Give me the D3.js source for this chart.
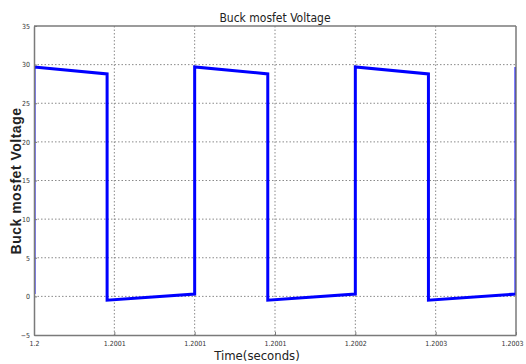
<!DOCTYPE html>
<html>
<head>
<meta charset="utf-8">
<script src="https://cdn.jsdelivr.net/npm/d3@7"></script>
<style>
  html, body { margin: 0; padding: 0; background: #fff; }
  svg { display: block; }
  .narrow { font-family: "Liberation Sans Narrow", "DejaVu Sans Condensed", "Liberation Sans", sans-serif; }
</style>
</head>
<body>
<svg id="chart" width="526" height="364"></svg>
<script>
// waveform corners
var times = [1.2, 1.2, 1.2000455, 1.2000455, 1.2001, 1.2001, 1.2001455, 1.2001455,
             1.2002, 1.2002, 1.2002455, 1.2002455, 1.2003, 1.2003];
var volts = [0.3, 29.7, 28.8, -0.5, 0.3, 29.7, 28.8, -0.5,
             0.3, 29.7, 28.8, -0.5, 0.3, 29.7];

var xTicks = [1.2, 1.20005, 1.2001, 1.20015, 1.2002, 1.20025, 1.2003];
var xTickLabels = ['1.2', '1.2001', '1.2001', '1.2001', '1.2002', '1.2003', '1.2003'];
var yTicks = [-5, 0, 5, 10, 15, 20, 25, 30, 35];

var svg = d3.select('#chart');
var m = { left: 34, right: 516, top: 26, bottom: 335 };

var x = d3.scaleLinear().domain([1.2, 1.2003]).range([m.left, m.right]);
var y = d3.scaleLinear().domain([-5, 35]).range([m.bottom, m.top]);

var grid = svg.append('g');
xTicks.slice(1, -1).forEach(function (t) {
    grid.append('line')
        .attr('x1', x(t)).attr('x2', x(t))
        .attr('y1', m.top).attr('y2', m.bottom)
        .attr('stroke', '#8a8a8a').attr('stroke-width', 1)
        .attr('stroke-dasharray', '1.5,2');
});
yTicks.slice(1, -1).forEach(function (v) {
    grid.append('line')
        .attr('x1', m.left).attr('x2', m.right)
        .attr('y1', y(v)).attr('y2', y(v))
        .attr('stroke', '#8a8a8a').attr('stroke-width', 1)
        .attr('stroke-dasharray', '1.5,2');
});

svg.append('clipPath').attr('id', 'clip')
    .append('rect')
    .attr('x', m.left).attr('y', m.top)
    .attr('width', m.right - m.left).attr('height', m.bottom - m.top);

var pts = times.map(function (t, i) { return [t, volts[i]]; });
var line = d3.line()
    .x(function (d) { return x(d[0]); })
    .y(function (d) { return y(d[1]); });

svg.append('path')
    .datum(pts)
    .attr('clip-path', 'url(#clip)')
    .attr('d', line)
    .attr('fill', 'none')
    .attr('stroke', '#0000ff')
    .attr('stroke-width', 3)
    .attr('stroke-linejoin', 'miter');

// axes box
var xAxis = d3.axisBottom(x).tickValues(xTicks)
    .tickFormat(function (d, i) { return xTickLabels[i]; })
    .tickSizeInner(-3).tickSizeOuter(0).tickPadding(6);
var yAxis = d3.axisLeft(y).tickValues(yTicks)
    .tickFormat(d3.format('d'))
    .tickSizeInner(-3).tickSizeOuter(0).tickPadding(4);

var gx = svg.append('g').attr('transform', 'translate(0,' + m.bottom + ')').call(xAxis);
var gy = svg.append('g').attr('transform', 'translate(' + m.left + ',0)').call(yAxis);
[gx, gy].forEach(function (g) {
    g.select('.domain').attr('stroke', '#7a7a7a').attr('stroke-width', 1.5);
    g.selectAll('.tick line').attr('stroke', '#7a7a7a');
    g.selectAll('.tick text')
        .attr('class', 'narrow')
        .attr('fill', '#333')
        .style('font-size', '7px');
});
// last label sits on the window edge
gx.selectAll('.tick text').filter(function (d, i) { return i === xTicks.length - 1; })
    .attr('dx', -4);

svg.append('line')
    .attr('x1', m.left).attr('x2', m.right).attr('y1', m.top).attr('y2', m.top)
    .attr('stroke', '#7a7a7a').attr('stroke-width', 1.5);
svg.append('line')
    .attr('x1', m.right).attr('x2', m.right).attr('y1', m.top).attr('y2', m.bottom)
    .attr('stroke', '#7a7a7a').attr('stroke-width', 1.5);

svg.append('text')
    .attr('class', 'narrow')
    .attr('x', 275).attr('y', 22)
    .attr('text-anchor', 'middle')
    .attr('fill', '#222')
    .style('font-size', '12px')
    .text('Buck mosfet Voltage');

svg.append('text')
    .attr('transform', 'translate(21,181) rotate(-90)')
    .attr('text-anchor', 'middle')
    .attr('fill', '#222')
    .style('font-family', '"Liberation Sans", Arial, sans-serif')
    .style('font-size', '14px')
    .style('font-weight', 'bold')
    .style('letter-spacing', '0.5px')
    .text('Buck mosfet Voltage');

svg.append('text')
    .attr('class', 'narrow')
    .attr('x', 257).attr('y', 360)
    .attr('text-anchor', 'middle')
    .attr('fill', '#222')
    .style('font-size', '13px')
    .text('Time(seconds)');
</script>
</body>
</html>
